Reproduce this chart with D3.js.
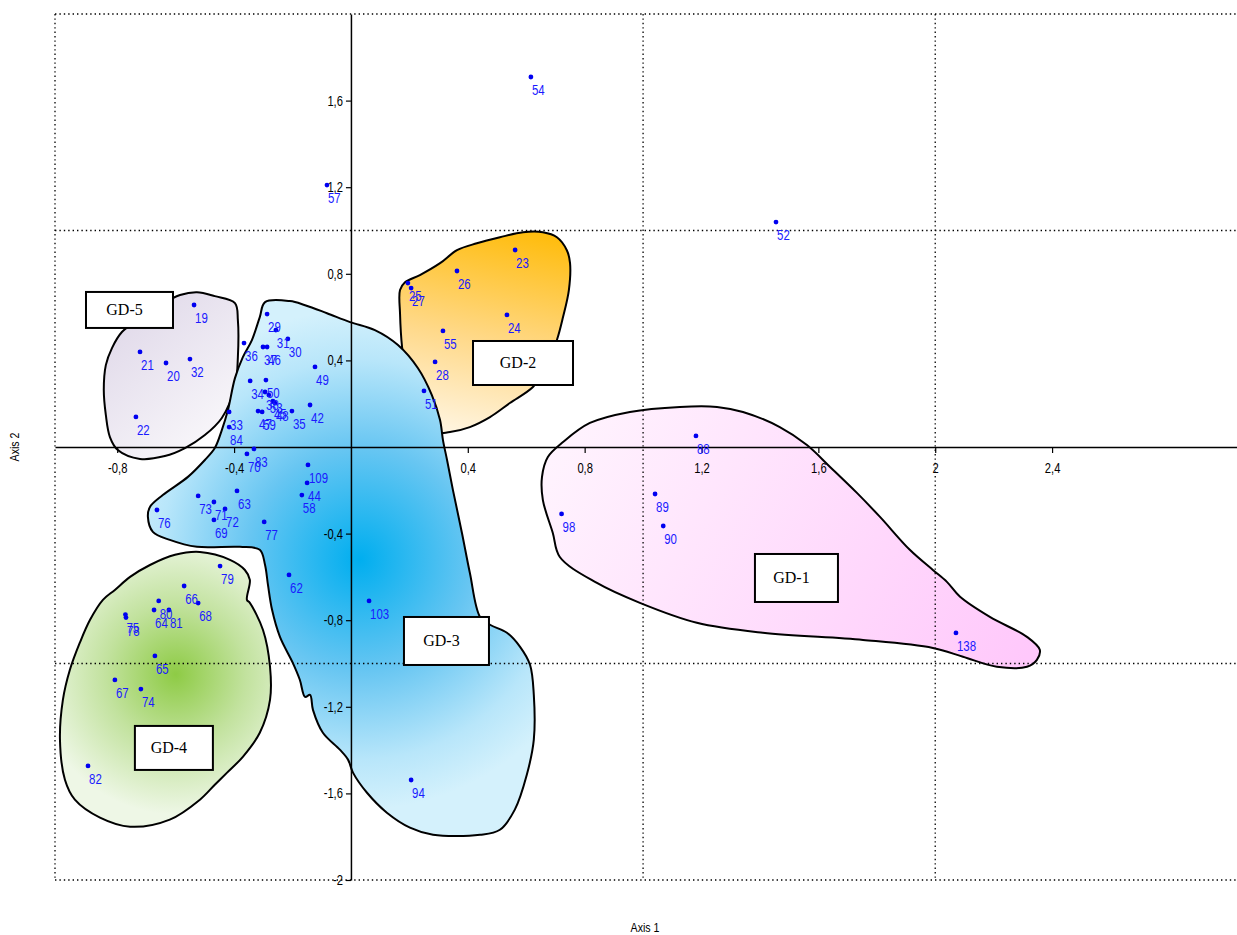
<!DOCTYPE html>
<html><head><meta charset="utf-8">
<script src="https://cdn.jsdelivr.net/npm/d3@7"></script>
<style>
html,body{margin:0;padding:0;background:#fff;}
svg{display:block;}
</style></head>
<body>
<script>
// ---------- DATA ----------
const pointIds = ["54","57","52","23","26","25","27","24","55","28","51",
  "19","21","20","32","22",
  "29","31","30","36","37","46","49","34","50","38","53","45","48","47","59","35","42","33","84","83","70",
  "109","44","58","63","73","71","72","69","76","77","79","62","103","94",
  "66","68","80","64","81","75","78","65","67","74","82",
  "88","89","98","90","138"];
const pointX = [0.616,-0.082,1.455,0.562,0.363,0.195,0.206,0.534,0.315,0.288,0.250,
  -0.537,-0.722,-0.633,-0.551,-0.736,
  -0.287,-0.257,-0.216,-0.366,-0.301,-0.287,-0.123,-0.345,-0.291,-0.294,-0.281,-0.267,-0.260,-0.318,-0.304,-0.202,-0.140,-0.417,-0.417,-0.332,-0.356,
  -0.147,-0.150,-0.168,-0.390,-0.523,-0.469,-0.431,-0.469,-0.664,-0.297,-0.448,-0.212,0.062,0.206,
  -0.571,-0.523,-0.658,-0.674,-0.623,-0.772,-0.770,-0.671,-0.808,-0.719,-0.900,
  1.181,1.041,0.721,1.069,2.071];
const pointY = [1.709,1.210,1.039,0.910,0.813,0.757,0.734,0.610,0.536,0.393,0.259,
  0.656,0.439,0.388,0.406,0.139,
  0.614,0.540,0.499,0.480,0.462,0.462,0.370,0.305,0.309,0.254,0.240,0.212,0.203,0.166,0.162,0.166,0.194,0.162,0.092,-0.009,-0.032,
  -0.083,-0.166,-0.222,-0.203,-0.226,-0.254,-0.286,-0.337,-0.291,-0.346,-0.550,-0.591,-0.711,-1.538,
  -0.642,-0.721,-0.711,-0.753,-0.753,-0.774,-0.788,-0.965,-1.076,-1.118,-1.473,
  0.051,-0.217,-0.309,-0.365,-0.859];

const xTicks = [-0.8,-0.4,0.4,0.8,1.2,1.6,2,2.4];
const yTicks = [-2,-1.6,-1.2,-0.8,-0.4,0.4,0.8,1.2,1.6];
const xGrid = [1,2];
const yGrid = [1,-1];

const groupNames = ["GD-1","GD-2","GD-3","GD-4","GD-5"];
// hull outlines (data coordinates)
const hullGD1X = [0.726,0.818,0.955,1.126,1.253,1.342,1.468,1.561,1.640,1.732,1.811,1.913,1.992,2.040,2.085,2.187,2.314,2.358,2.348,2.314,2.211,2.095,1.992,1.753,1.410,1.184,0.989,0.842,0.715,0.691,0.657,0.654,0.674];
const hullGD1Y = [0.023,0.111,0.162,0.185,0.185,0.162,0.092,0.009,-0.092,-0.212,-0.323,-0.475,-0.568,-0.623,-0.692,-0.785,-0.877,-0.937,-0.983,-1.015,-1.015,-0.969,-0.928,-0.891,-0.858,-0.812,-0.720,-0.628,-0.508,-0.397,-0.245,-0.138,-0.046];
const hullGD2X = [0.589,0.657,0.705,0.739,0.750,0.746,0.726,0.705,0.664,0.623,0.544,0.476,0.407,0.339,0.270,0.246,0.226,0.192,0.175,0.168,0.168,0.185,0.236,0.305,0.363,0.431,0.510];
const hullGD2Y = [0.992,0.992,0.969,0.909,0.849,0.725,0.600,0.494,0.355,0.277,0.203,0.138,0.092,0.069,0.065,0.125,0.217,0.309,0.462,0.618,0.725,0.761,0.794,0.849,0.909,0.941,0.969];
const hullGD3X = [-0.294,-0.209,-0.157,-0.082,-0.003,0.082,0.161,0.229,0.277,0.305,0.315,0.329,0.349,0.380,0.407,0.442,0.476,0.534,0.579,0.613,0.626,0.626,0.602,0.561,0.510,0.442,0.281,0.202,0.123,0.055,0.007,-0.010,-0.038,-0.096,-0.130,-0.140,-0.157,-0.175,-0.199,-0.243,-0.270,-0.284,-0.294,-0.312,-0.380,-0.527,-0.620,-0.678,-0.695,-0.688,-0.644,-0.558,-0.500,-0.466,-0.442,-0.421,-0.397,-0.370,-0.339,-0.312];
const hullGD3Y = [0.669,0.674,0.655,0.618,0.577,0.540,0.471,0.365,0.240,0.125,0.032,-0.060,-0.198,-0.397,-0.581,-0.785,-0.821,-0.858,-0.923,-1.006,-1.145,-1.352,-1.514,-1.675,-1.768,-1.791,-1.791,-1.758,-1.689,-1.597,-1.504,-1.444,-1.398,-1.320,-1.214,-1.145,-1.154,-1.075,-0.997,-0.877,-0.752,-0.637,-0.545,-0.475,-0.461,-0.461,-0.429,-0.392,-0.323,-0.277,-0.222,-0.138,-0.060,-0.005,0.078,0.171,0.318,0.415,0.494,0.600];
const hullGD4X = [-0.602,-0.517,-0.414,-0.363,-0.346,-0.356,-0.346,-0.301,-0.277,-0.277,-0.312,-0.370,-0.424,-0.466,-0.517,-0.620,-0.756,-0.859,-0.945,-0.979,-0.996,-0.986,-0.962,-0.928,-0.893,-0.849,-0.808,-0.756,-0.688];
const hullGD4Y = [-0.498,-0.485,-0.521,-0.568,-0.614,-0.706,-0.720,-0.845,-1.015,-1.168,-1.320,-1.431,-1.504,-1.560,-1.629,-1.721,-1.754,-1.712,-1.629,-1.537,-1.352,-1.168,-1.029,-0.904,-0.798,-0.706,-0.660,-0.600,-0.545];
const hullGD5X = [-0.527,-0.466,-0.397,-0.387,-0.387,-0.397,-0.442,-0.500,-0.568,-0.637,-0.722,-0.798,-0.825,-0.839,-0.846,-0.839,-0.818,-0.784,-0.722,-0.654,-0.585];
const hullGD5Y = [0.715,0.697,0.665,0.586,0.415,0.277,0.134,0.055,-0.005,-0.042,-0.055,-0.014,0.046,0.148,0.263,0.378,0.457,0.531,0.595,0.655,0.702];
// label box centres (data coordinates)
const boxX = [1.525,0.589,0.327,-0.606,-0.758];
const boxY = [-0.605,0.388,-0.896,-1.390,0.633];

// ---------- LAYOUT / STYLE ----------
const W = 1237, H = 935;
const boxW = [83,100,85,78,87], boxH = [48,44,48,44,36];
const svg = d3.select("body").append("svg").attr("width",W).attr("height",H);
const x = d3.scaleLinear().domain([-1.013,3.033]).range([55,1237]);
const y = d3.scaleLinear().domain([-2,2]).range([880,14]);
const fmt = v => String(+v.toFixed(1)).replace(".", ",");
const font = "'Liberation Sans',Arial,sans-serif";
const narrow = 0.8;

const defs = svg.append("defs");
const g1 = defs.append("linearGradient").attr("id","gGD1").attr("gradientUnits","userSpaceOnUse")
  .attr("x1",x(0.7)).attr("y1",y(0.2)).attr("x2",x(2.3)).attr("y2",y(-1.0));
g1.append("stop").attr("offset",0).attr("stop-color","#fff5fe");
g1.append("stop").attr("offset",1).attr("stop-color","#ffc8fb");
const g2 = defs.append("linearGradient").attr("id","gGD2").attr("gradientUnits","userSpaceOnUse")
  .attr("x1",x(0.55)).attr("y1",y(1.0)).attr("x2",x(0.4)).attr("y2",y(0.06));
g2.append("stop").attr("offset",0).attr("stop-color","#ffbd10");
g2.append("stop").attr("offset",0.55).attr("stop-color","#ffd98a");
g2.append("stop").attr("offset",1).attr("stop-color","#fff4de");
const g3 = defs.append("radialGradient").attr("id","gGD3").attr("gradientUnits","userSpaceOnUse")
  .attr("cx",x(0.03)).attr("cy",y(-0.52)).attr("r",250);
g3.append("stop").attr("offset",0).attr("stop-color","#00aeef");
g3.append("stop").attr("offset",0.45).attr("stop-color","#68c6f2");
g3.append("stop").attr("offset",0.8).attr("stop-color","#b8e6fa");
g3.append("stop").attr("offset",1).attr("stop-color","#d4f1fc");
const g4 = defs.append("radialGradient").attr("id","gGD4").attr("gradientUnits","userSpaceOnUse")
  .attr("cx",x(-0.6)).attr("cy",y(-1.05)).attr("r",140);
g4.append("stop").attr("offset",0).attr("stop-color","#8ecb45");
g4.append("stop").attr("offset",0.5).attr("stop-color","#c2e29e");
g4.append("stop").attr("offset",1).attr("stop-color","#eef7e6");
const g5 = defs.append("linearGradient").attr("id","gGD5").attr("gradientUnits","userSpaceOnUse")
  .attr("x1",x(-0.84)).attr("y1",y(0.7)).attr("x2",x(-0.4)).attr("y2",y(0.0));
g5.append("stop").attr("offset",0).attr("stop-color","#ddd5e7");
g5.append("stop").attr("offset",1).attr("stop-color","#fbfafc");

const hulls = [
  {id:"GD-1", xs:hullGD1X, ys:hullGD1Y, fill:"url(#gGD1)"},
  {id:"GD-2", xs:hullGD2X, ys:hullGD2Y, fill:"url(#gGD2)"},
  {id:"GD-5", xs:hullGD5X, ys:hullGD5Y, fill:"url(#gGD5)"},
  {id:"GD-4", xs:hullGD4X, ys:hullGD4Y, fill:"url(#gGD4)"},
  {id:"GD-3", xs:hullGD3X, ys:hullGD3Y, fill:"url(#gGD3)"}
];
const line = d3.line().x(d=>x(d[0])).y(d=>y(d[1])).curve(d3.curveCatmullRomClosed.alpha(0.5));
svg.append("g").selectAll("path").data(hulls).join("path")
  .attr("d", h => line(h.xs.map((v,i)=>[v,h.ys[i]])))
  .attr("fill", h=>h.fill).attr("stroke","#000").attr("stroke-width",2);

// dotted grid + frame
const grid = svg.append("g").attr("stroke","#000").attr("stroke-width",1.3).attr("stroke-dasharray","1.4,3").attr("fill","none");
grid.selectAll("line.v").data(xGrid).join("line").attr("class","v")
  .attr("x1",d=>x(d)).attr("x2",d=>x(d)).attr("y1",y(2)).attr("y2",y(-2));
grid.selectAll("line.h").data(yGrid.concat([2,-2])).join("line").attr("class","h")
  .attr("x1",x.range()[0]).attr("x2",x.range()[1]).attr("y1",d=>y(d)).attr("y2",d=>y(d));
grid.append("line").attr("x1",x.range()[0]).attr("x2",x.range()[0]).attr("y1",y(2)).attr("y2",y(-2));

// axes
const ax = svg.append("g").attr("transform",`translate(0,${y(0)})`)
  .call(d3.axisBottom(x).tickValues(xTicks).tickFormat(fmt).tickSize(6).tickPadding(10).tickSizeOuter(0));
const ay = svg.append("g").attr("transform",`translate(${x(0)},0)`)
  .call(d3.axisLeft(y).tickValues(yTicks).tickFormat(fmt).tickSize(5).tickPadding(3).tickSizeOuter(0));
[ax,ay].forEach(a=>{
  a.select(".domain").attr("stroke","#000").attr("stroke-width",1.5);
  a.selectAll(".tick line").attr("stroke","#000").attr("stroke-width",1.2);
  a.selectAll(".tick text").attr("font-family",font).attr("font-size",14).attr("fill","#000")
    .attr("transform",`scale(${narrow},1)`);
});
ay.selectAll(".tick text").attr("x",-8/narrow);

// points
const pts = pointIds.map((id,i)=>({id, x:pointX[i], y:pointY[i]}));
svg.append("g").selectAll("circle").data(pts).join("circle")
  .attr("cx",d=>x(d.x)).attr("cy",d=>y(d.y)).attr("r",2.4).attr("fill","#0000f0");
svg.append("g").selectAll("text").data(pts).join("text")
  .attr("transform",d=>`translate(${x(d.x)+1},${y(d.y)+18}) scale(0.74,1)`)
  .attr("font-family",font).attr("font-size",15.5).attr("fill","#1a1aff").text(d=>d.id);

// group boxes
const boxes = groupNames.map((n,i)=>({n, x:boxX[i], y:boxY[i], w:boxW[i], h:boxH[i]}));
const bg = svg.append("g").selectAll("g").data(boxes).join("g")
  .attr("transform",d=>`translate(${x(d.x)},${y(d.y)})`);
bg.append("rect").attr("x",d=>-d.w/2).attr("y",d=>-d.h/2).attr("width",d=>d.w).attr("height",d=>d.h)
  .attr("fill","#fff").attr("stroke","#000").attr("stroke-width",2);
bg.append("text").attr("x",-5).attr("y",5).attr("text-anchor","middle")
  .attr("font-family","'Liberation Serif','Times New Roman',serif").attr("font-size",16).attr("fill","#000")
  .text(d=>d.n);

// axis titles
svg.append("text").attr("transform","translate(645,932) scale(0.85,1)").attr("text-anchor","middle")
  .attr("font-family",font).attr("font-size",12.5).text("Axis 1");
svg.append("text").attr("transform",`translate(19,${y(0)}) rotate(-90) scale(0.85,1)`).attr("text-anchor","middle")
  .attr("font-family",font).attr("font-size",12.5).text("Axis 2");
</script>
</body></html>
